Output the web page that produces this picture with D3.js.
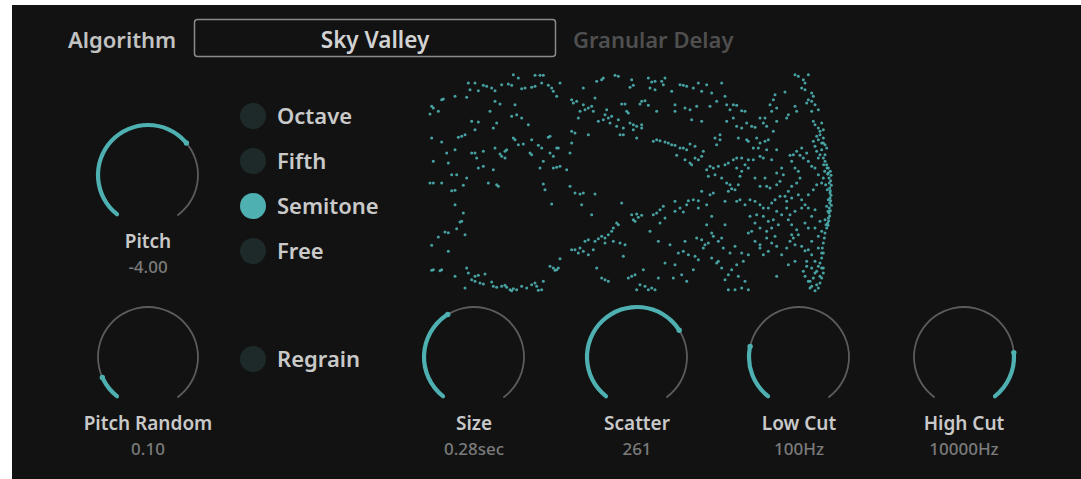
<!DOCTYPE html>
<html><head><meta charset="utf-8">
<script src="https://cdn.jsdelivr.net/npm/d3@7"></script>
<style>
html,body{margin:0;padding:0;background:#fff;}
svg{display:block;}
text{font-family:"Noto Sans",sans-serif;}
</style></head>
<body>
<script>
// ---- data ----
const algorithmLabel = "Algorithm";
const algorithmName = "Sky Valley";
const algorithmType = "Granular Delay";
const pitchModes = ["Octave", "Fifth", "Semitone", "Free"];
const selectedMode = "Semitone";
const regrainLabel = "Regrain";
const regrainOn = false;
const knobNames = ["Pitch", "Pitch Random", "Size", "Scatter", "Low Cut", "High Cut"];
const knobValues = ["-4.00", "0.10", "0.28sec", "261", "100Hz", "10000Hz"];
const knobPositions = [0.674, 0.104, 0.39, 0.70, 0.23, 0.795];
const knobFillFromEnd = [false, false, false, false, false, true];

// grain cloud: [position, height] in display units
const grainsA = [[265,20],[330,22],[345,22],[355,22],[280,30],[130,45],[150,45],[175,52],[185,55],[200,60],[210,68],[230,50],[250,48],[260,52],[290,62],[300,60],[320,58],[330,55],[350,45],[370,52],[380,60],[385,70],[395,85],[405,45],[135,65],[160,68],[125,88],[90,85],[50,95],[55,93],[20,115],[25,120],[40,130],[15,138],
[195,130],[210,100],[225,108],[270,110],[140,160],[160,162],[215,165],[205,180],[260,145],[275,140],[290,150],[310,170],[150,185],[100,208],[110,205],[120,200],[265,210],[270,215],[280,230],[295,228],[20,210],[50,222],[65,255],[90,245],[140,255],[150,255],[175,250],[210,240],[225,258],[240,250],[245,245],[230,265],[240,270],[315,255],[320,260],[340,232],[350,240],[370,208],[375,205],[320,215],[400,240],[375,255],[385,265],[395,240],
[25,280],[70,285],[155,270],[160,300],[175,295],[205,305],[80,320],[95,320],[125,330],[385,300],[395,298],[405,295],[345,300],[355,280],[15,345],[25,345],[50,345],[80,368],[90,367],[115,352],[190,345],[215,350],[220,355],[355,348],[360,365],[380,408],[90,410],
[115,435],[105,462],[110,460],[95,482],[120,500],[60,492],[70,494],[40,507],[20,532],[70,550],[20,607],[25,605],[45,608],[50,605],[90,625],[125,600],[130,615],[150,625],[160,622],[180,618],[140,635],[150,640],[165,645],[175,648],[200,642],[205,655],[215,658],[230,655],[240,652],[245,658],[255,665],[265,662],[275,665],[290,655],[305,660],[320,650],[330,645],[335,655],[350,665],[355,640],[375,595],[385,600],[390,607],[395,605],[400,600],[405,572],[120,660],[260,668],[340,667]];

const grainsB = [[515,40],[530,35],[535,30],[570,22],[580,25],[620,35],[625,52],[615,58],[670,30],[680,42],[690,40],[710,40],[720,30],[715,50],[675,60],[690,65],[740,70],[765,50],[775,52],[785,55],[805,60],[820,45],[830,70],[475,60],[440,95],[445,105],[455,100],[475,110],[480,125],[490,120],[500,115],[505,130],[465,130],[460,150],[510,90],[545,125],[540,140],[550,150],[560,145],[590,108],[600,108],[605,130],[610,135],[650,100],[660,98],[645,108],[670,112],[695,130],[750,110],[750,130],[780,120],[795,125],[815,115],[800,155],[830,160],[520,160],[535,155],[555,165],[580,155],[575,175],[595,180],[615,165],[625,170],[635,175],[650,170],[625,185],[650,180],[585,200],[595,200],[635,210],[490,200],[440,190],[450,195],
[685,220],[695,215],[705,218],[720,222],[730,225],[740,230],[750,232],[765,240],[775,240],[785,245],[795,228],[810,235],[755,262],[780,275],[795,285],[800,290],[810,270],[820,275],[830,265],[835,250],[440,225],[435,255],[425,305],[435,355],[450,375],[465,378],[475,375],[510,378],[470,410],[500,440],[590,405],[620,440],[625,455],[630,460],[640,448],[650,442],[635,438],[685,440],[695,435],[705,425],[715,415],[705,465],[720,450],[750,430],[750,400],[765,420],[775,432],[785,410],[790,398],[805,395],[820,398],[830,370],[820,420],
[575,465],[580,470],[565,480],[560,490],[550,500],[540,510],[530,505],[520,512],[510,520],[490,515],[480,520],[465,540],[450,545],[440,545],[460,555],[475,550],[490,560],[505,545],[540,525],[565,520],[585,525],[600,530],[595,565],[515,600],[530,630],[540,635],[550,640],[610,630],[620,625],[630,620],[655,605],[645,650],[660,655],[670,665],[680,660],[690,665],[635,665],[700,630],[720,585],[750,590],[760,555],[775,550],[790,560],[810,565],[820,575],[815,510],[830,515],[835,540],[805,605],[770,620],[785,640],[745,630],[675,490],[700,520],[735,530],[780,520]];

const grainsC = [[1110,20],[1120,25],[1135,35],[1140,45],[1150,20],[1130,60],[1140,65],[1160,75],[1165,85],[1150,95],[1160,100],[1145,105],[1170,110],[1180,125],[1160,130],[1165,160],[1170,170],[1180,180],[1190,165],[1195,185],[1185,200],[1195,210],[1180,215],[1190,225],[1200,230],[1205,240],[1170,235],[1175,250],[1185,260],[1195,270],[1200,280],[1205,290],[1210,300],[1210,315],[1212,330],[1213,345],[1214,360],[1215,375],[1215,390],[1214,405],[1213,420],[1212,435],[1210,450],[1208,465],[1205,480],[1200,495],[1198,510],[1195,525],[1192,540],[1195,555],[1190,570],[1185,585],[1190,600],[1195,615],[1190,630],[1185,645],[1180,660],[1170,668],[1160,655],[1155,640],[1140,625],[1135,610],[1145,595],[1160,600],[1175,610],[1170,580],[1180,595],[1160,560],[1150,545],[1140,548],[1130,535],[1160,520],[1180,505],[1190,490],[1170,480],[1185,460],[1160,445],[1170,425],[1150,420],[1140,410],[1130,395],[1150,380],[1165,365],[1175,350],[1190,345],[1195,330],[1180,320],[1170,300],[1160,295],[1150,280],[1135,270],[1125,262],[1145,255],[1130,240],[1115,250],[1105,260],[1095,262],[1100,280],[1110,300],[1120,310],[1125,330],[1115,345],[1100,355],[1090,370],[1080,385],[1085,400],[1100,390],[1120,380],[1130,420],[1110,430],[1095,440],[1090,455],[1100,470],[1115,485],[1120,500],[1105,510],[1095,520],[1110,530],[1140,465],[1150,480],
[1216,310],[1218,322],[1217,338],[1219,352],[1216,368],[1218,382],[1217,398],[1219,412],[1216,428],[1214,444],[1211,458],[1209,472],[1206,300],[1208,318],[1207,365],[1210,395],[1209,430],[1203,470],[1200,455],[1205,415],[1202,350],[1199,310],[1196,290],
[1150,640],[1165,630],[1175,650],[1185,625],[1195,600],[1170,615],[1155,660],[1145,580],[1190,555],[1180,540],[1185,190],[1175,205],[1195,225],[1190,245],[1200,260],[1180,270],[1165,220],
[845,50],[860,75],[890,45],[900,85],[875,100],[855,115],[905,110],[915,125],[925,110],[935,112],[950,128],[960,130],[925,150],[905,160],[935,175],[950,180],[965,165],[980,175],[990,178],[1005,150],[1020,150],[1015,165],[1025,175],[1035,110],[1045,95],[1050,80],[1080,72],[1055,120],[1040,130],[1090,140],[1085,150],[1110,115],[1115,130],[1055,160],[1045,190],[1030,215],[1020,220],[1005,225],[995,210],[985,240],[965,215],[970,220],[940,210],[885,200],[870,210],[875,230],[885,215],[1000,240],[1025,245],[1040,275],[1055,245],[1015,270],[1005,265],[985,275],[970,275],[950,270],[935,270],[925,275],[910,285],[900,290],[880,295],[865,300],[855,295],[845,305],[850,325],[870,320],[890,330],[905,345],[915,350],[920,362],[910,370],[930,365],[940,350],[945,325],[950,310],[935,300],[960,290],[970,300],[990,330],[1005,355],[1020,330],[1025,355],[1035,360],[1055,350],[1065,340],[1070,300],[1055,315],[1075,320],[1065,385],[1050,395],[1040,405],[1030,420],[1015,420],[1005,410],[990,400],[975,395],[960,410],[945,395],[935,400],[900,400],[865,375],[855,380],[845,410],[860,445],[845,470],[860,495],[865,505],[890,510],[880,520],[850,525],[840,530],[895,540],[915,555],[930,535],[950,555],[900,470],[975,445],[995,440],[1015,445],[1030,460],[1045,455],[1060,470],[1070,440],[1085,420],[1055,430],[1040,480],[1025,490],[1005,480],[990,465],[980,490],[970,495],[990,520],[1005,530],[1025,510],[1040,525],[1055,535],[1030,550],[1015,560],[1005,540],[970,560],[955,580],[935,590],[920,605],[910,620],[900,635],[880,580],[860,570],[875,585],[890,600],[940,625],[960,640],[950,660],[930,665],[910,665],[970,665],[1055,625],[1090,590],[1110,580],[1085,540],[1070,560],[1050,505],[1100,500]];

// ---- drawing ----
const W = 1081, H = 479;
const svg = d3.select("body").append("svg").attr("width", W).attr("height", H);
svg.append("rect").attr("x", 0).attr("y", 0).attr("width", W).attr("height", H).attr("fill", "#ffffff");
svg.append("rect").attr("x", 12).attr("y", 5).attr("width", W - 12).attr("height", H - 5).attr("fill", "#121212");

const TEAL = "#4eb0b1";
const LABEL = "#c9c9c9";
const VALUE = "#7b7b7b";

// header
svg.append("text").attr("x", 68).attr("y", 48).attr("fill", "#c2c2c2")
  .attr("font-size", 22).attr("font-weight", 600).text(algorithmLabel);
svg.append("rect").attr("x", 194.5).attr("y", 19.5).attr("width", 361).attr("height", 37)
  .attr("rx", 3).attr("fill", "none").attr("stroke", "#8a8a8a").attr("stroke-width", 1.5);
svg.append("text").attr("x", 375).attr("y", 48).attr("text-anchor", "middle").attr("fill", "#d2d2d2")
  .attr("font-size", 22.5).attr("font-weight", 600).text(algorithmName);
svg.append("text").attr("x", 573).attr("y", 48).attr("fill", "#4f4f4f")
  .attr("font-size", 22).attr("font-weight", 600).text(algorithmType);

// grain cloud
const gx = d3.scaleLinear().domain([0, 1245]).range([425, 840]);
const gy = d3.scaleLinear().domain([0, 690]).range([68, 298]);
const allGrains = grainsA.concat(grainsB, grainsC);
svg.append("g").selectAll("circle").data(allGrains).join("circle")
  .attr("cx", d => gx(d[0])).attr("cy", d => gy(d[1])).attr("r", 1.5)
  .attr("fill", TEAL).attr("fill-opacity", 0.9);

// radio buttons
const modeY = d3.scalePoint().domain(pitchModes).range([116, 251]);
const modes = svg.append("g").selectAll("g").data(pitchModes).join("g");
modes.append("circle").attr("cx", 253).attr("cy", d => modeY(d)).attr("r", 13)
  .attr("fill", d => d === selectedMode ? TEAL : "#1e2a2a");
modes.append("text").attr("x", 277).attr("y", d => modeY(d) + 7.5).attr("fill", LABEL)
  .attr("font-size", 22).attr("font-weight", 600).text(d => d);
svg.append("circle").attr("cx", 253).attr("cy", 359).attr("r", 13).attr("fill", regrainOn ? TEAL : "#1e2a2a");
svg.append("text").attr("x", 277).attr("y", 366.5).attr("fill", LABEL)
  .attr("font-size", 22).attr("font-weight", 600).text(regrainLabel);

// knobs
const knobCenters = [[148, 175], [148, 357], [474, 357], [637, 357], [799, 357], [964, 357]];
const R = 50;
const ang = d3.scaleLinear().domain([0, 1]).range([-0.8 * Math.PI, 0.8 * Math.PI]);
const track = d3.arc().innerRadius(R - 0.9).outerRadius(R + 0.9);
const fill = d3.arc().innerRadius(R - 2.1).outerRadius(R + 2.1).cornerRadius(2.1);
knobNames.forEach((name, i) => {
  const [cx, cy] = knobCenters[i];
  const g = svg.append("g").attr("transform", `translate(${cx},${cy})`);
  g.append("path").attr("d", track({startAngle: ang(0), endAngle: ang(1)})).attr("fill", "#5c5c5c");
  const p = knobPositions[i];
  const a0 = knobFillFromEnd[i] ? ang(p) : ang(0);
  const a1 = knobFillFromEnd[i] ? ang(1) : ang(p);
  g.append("path").attr("d", fill({startAngle: a0, endAngle: a1})).attr("fill", TEAL);
  const ea = ang(p);
  g.append("circle").attr("cx", R * Math.sin(ea)).attr("cy", -R * Math.cos(ea)).attr("r", 2.7).attr("fill", TEAL);
  g.append("text").attr("x", 0).attr("y", 72.5).attr("text-anchor", "middle").attr("fill", LABEL)
    .attr("font-size", 19).attr("font-weight", 600).text(name);
  g.append("text").attr("x", 0).attr("y", 97.5).attr("text-anchor", "middle").attr("fill", VALUE)
    .attr("font-size", 17).attr("font-weight", 500).text(knobValues[i]);
});
</script>
</body></html>
